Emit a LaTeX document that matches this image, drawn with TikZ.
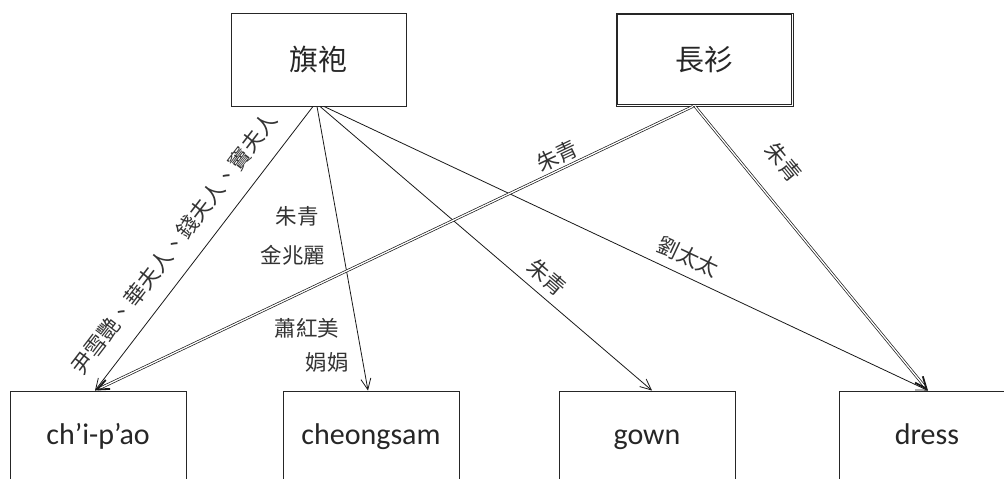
\documentclass[tikz,border=0pt]{standalone}
\usepackage{fontspec}
\setmainfont{Carlito}
\newfontfamily\cjk{Noto Sans CJK TC}
\usetikzlibrary{arrows.meta}
\begin{document}
\begin{tikzpicture}[x=1pt,y=1pt,
 box/.style={draw=black!85, line width=0.9pt, minimum width=176pt, minimum height=93pt, inner sep=0pt, text=black!85},
 topfont/.style={font=\cjk\fontsize{29}{32}\selectfont},
 botfont/.style={font=\fontsize{30}{34}\selectfont, text height=20pt, text depth=6pt},
 lbl/.style={font=\cjk\fontsize{21.5}{24}\selectfont, text=black!80, inner sep=2pt},
 arr/.style={draw=black!90, line width=0.8pt, -{Straight Barb[length=11pt,width=10pt]}},
 darr/.style={draw=black!90, line width=0.7pt, double=white, double distance=1.3pt, -{Straight Barb[length=12pt,width=10pt,line width=1.8pt]}},
]
\useasboundingbox (0,0) rectangle (1004,479);
\clip (0,0) rectangle (1004,479);
\node[box, topfont, minimum width=175pt] (qipao) at (318.5,419.5) {旗袍};
\node[box, topfont, minimum width=177pt, line width=0.8pt] (changshan) at (704.5,419.5) {長衫};
\draw[line width=0.8pt, black!85] ([shift={(2.2pt,2.2pt)}]changshan.south west) rectangle ([shift={(-2.2pt,-2.2pt)}]changshan.north east);
\node[box, botfont] (chipao) at (98,41.5) {ch’i-p’ao};
\node[box, botfont] (cheongsam) at (371,41.5) {cheongsam};
\node[box, botfont] (gown) at (647,41.5) {gown};
\node[box, botfont] (dress) at (927,41.5) {dress};

\draw[arr] ([xshift=-5.5pt]qipao.south) -- node[lbl, sloped, above=14pt, pos=0.54] (l1) {尹雪艷、華夫人、錢夫人、竇夫人} ([xshift=-3pt]chipao.north);
\draw[arr] ([xshift=-1.5pt]qipao.south) -- ([xshift=-3pt]cheongsam.north);
\draw[arr] ([xshift=1.5pt]qipao.south) -- node[lbl, sloped, above=5pt, pos=0.65] (l2) {朱青} ([xshift=5pt]gown.north);
\draw[arr] ([xshift=5.5pt]qipao.south) -- node[lbl, sloped, above=6.5pt, pos=0.59] (l3) {劉太太} ([xshift=1pt]dress.north);
\draw[darr] ([xshift=-11.5pt]changshan.south) -- node[lbl, sloped, above=1pt, pos=0.217] (l4) {朱青} ([xshift=-3pt]chipao.north);
\draw[darr] ([xshift=-9.5pt]changshan.south) -- node[lbl, sloped, above=21pt, pos=0.27] (l5) {朱青} ([xshift=1pt]dress.north);

\node[lbl] (l6) at (297,263) {朱青};
\node[lbl] (l7) at (293,224) {金兆麗};
\node[lbl] (l8) at (307,151) {蕭紅美};
\node[lbl] (l9) at (327,117) {娟娟};
\end{tikzpicture}
\end{document}
